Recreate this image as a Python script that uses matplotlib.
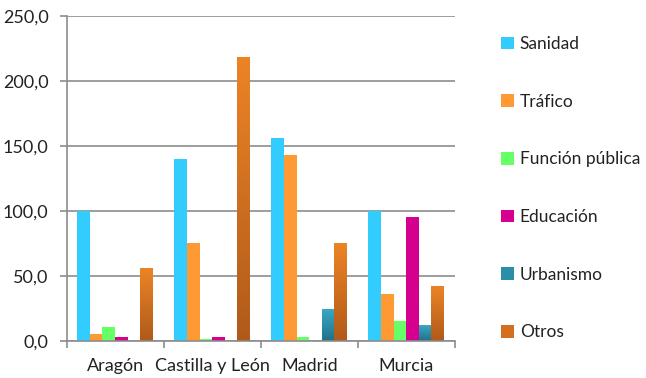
import matplotlib
matplotlib.use("Agg")
import matplotlib.pyplot as plt
import numpy as np
from matplotlib.ticker import FuncFormatter, FixedLocator
from matplotlib.colors import LinearSegmentedColormap

plt.rcParams['font.family'] = ['Lato', 'DejaVu Sans']

categories = ["Aragón", "Castilla y León", "Madrid", "Murcia"]
series = ["Sanidad", "Tráfico", "Función pública", "Educación", "Urbanismo", "Otros"]
sanidad = [100, 140, 156, 100]
trafico = [5, 75, 143, 36]
funcion = [11, 1.5, 3, 15]
educacion = [3, 3, 0, 95]
urbanismo = [0, 0, 24.5, 12]
otros = [56, 218, 75, 42]
values = [sanidad, trafico, funcion, educacion, urbanismo, otros]
colors = ["#33CCFF", "#FF9933", "#66FF66", "#D6008F", "#2A8EA8", "#D2701F"]
gradients = {4: ("#3AA8C4", "#21708A"), 5: ("#EC8426", "#B05A1A")}

fig = plt.figure(figsize=(6.46, 3.78), dpi=100)
ax = fig.add_axes([0.103, 0.098, 0.601, 0.860])

n = len(series)
bw = 0.78 / n
x = np.arange(len(categories))
grad = np.linspace(1, 0, 256).reshape(-1, 1)
for i, (s, vals, c) in enumerate(zip(series, values, colors)):
    bars = ax.bar(x - 0.39 + bw * (i + 0.5), vals, width=bw, color=c, label=s, zorder=3)
    if i in gradients:
        cmap = LinearSegmentedColormap.from_list(s, [gradients[i][1], gradients[i][0]])
        for b in bars:
            h = b.get_height()
            if h <= 0:
                continue
            im = ax.imshow(grad, cmap=cmap, aspect='auto', zorder=4,
                           extent=[b.get_x(), b.get_x() + b.get_width(), 0, h],
                           origin='upper')
            im.set_clip_path(b)

ax.set_xlim(-0.5, len(categories) - 0.5)
ax.set_ylim(0, 250)
ax.set_yticks(np.arange(0, 251, 50))
ax.yaxis.set_major_formatter(FuncFormatter(lambda v, p: f"{v:.1f}".replace('.', ',')))
ax.grid(axis='y', color='#8C8C8C', linewidth=1.2, zorder=0)
ax.set_xticks(x)
ax.set_xticklabels(categories)
ax.xaxis.set_minor_locator(FixedLocator(np.arange(-0.5, len(categories), 1)))
ax.tick_params(axis='x', which='major', length=0, pad=12, labelsize=13, labelcolor='#222222')
ax.tick_params(axis='x', which='minor', length=5, color='#8C8C8C', width=1.2)
ax.tick_params(axis='y', length=5, color='#8C8C8C', width=1.2, labelsize=13, pad=8,
               labelcolor='#222222')
for sp in ['top', 'right']:
    ax.spines[sp].set_visible(False)
for sp in ['left', 'bottom']:
    ax.spines[sp].set_color('#8C8C8C')
    ax.spines[sp].set_linewidth(1.2)
    ax.spines[sp].set_zorder(5)

leg = ax.legend(loc='center left', bbox_to_anchor=(1.08, 0.47), frameon=False,
                fontsize=12.5, labelspacing=2.4, handlelength=0.75, handleheight=0.75,
                handletextpad=0.3)
for t in leg.get_texts():
    t.set_color('#222222')

fig.savefig("out.png", dpi=100)
